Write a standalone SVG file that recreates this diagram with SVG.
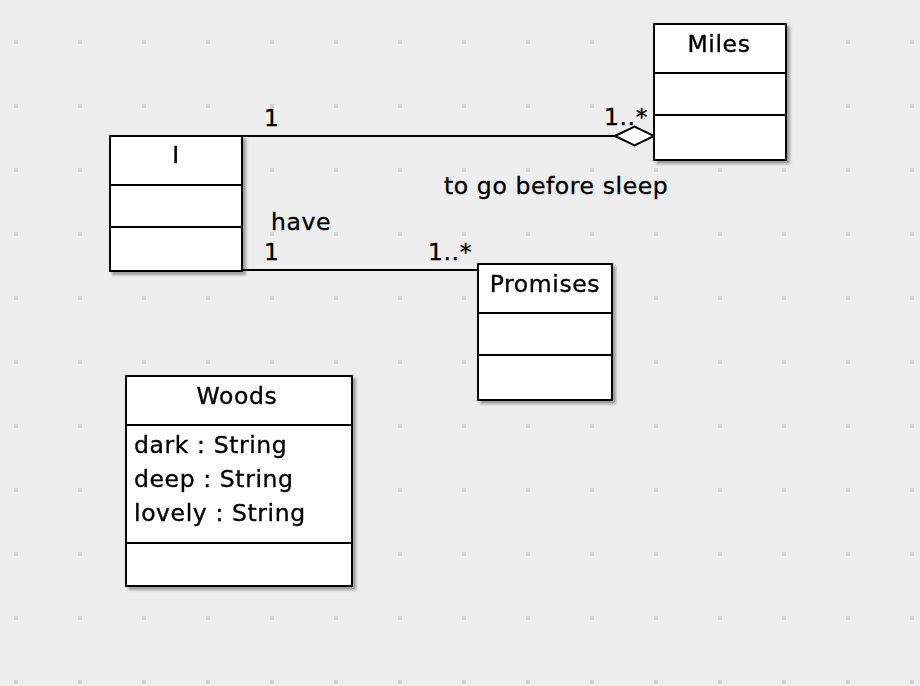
<svg xmlns="http://www.w3.org/2000/svg" width="920" height="686" viewBox="0 0 920 686">
<defs>
<pattern id="grid" x="14" y="40" width="64" height="64" patternUnits="userSpaceOnUse">
<rect x="0" y="0" width="4" height="4" fill="#d4d4d4"/>
</pattern>
<filter id="shadow" x="-10%" y="-10%" width="130%" height="130%">
<feGaussianBlur in="SourceAlpha" stdDeviation="1.5"/>
<feOffset dx="3" dy="3" result="b"/>
<feComponentTransfer><feFuncA type="linear" slope="0.35"/></feComponentTransfer>
<feMerge><feMergeNode/><feMergeNode in="SourceGraphic"/></feMerge>
</filter>
</defs>
<style>
.box{fill:#ffffff;stroke:#000000;stroke-width:2}
.div{stroke:#000000;stroke-width:2}
.edge{stroke:#000000;stroke-width:2;fill:none}
text{font-family:"DejaVu Sans",Verdana,sans-serif;font-size:23.5px;letter-spacing:0.6px;fill:#000000;stroke:#000000;stroke-width:0.35px}
.c{text-anchor:middle}
</style>
<rect x="0" y="0" width="920" height="686" fill="#eeeeee"/>
<rect x="0" y="0" width="920" height="686" fill="url(#grid)"/>

<g id="connectors">
<line class="edge" x1="242" y1="136" x2="615" y2="136"/>
<polygon class="edge" points="615,136 634.5,126.5 654,136 634.5,145.5" style="fill:#ffffff"/>
<line class="edge" x1="242" y1="270" x2="478" y2="270"/>
<text x="264" y="126">1</text>
<text x="604" y="125">1..*</text>
<text x="444" y="194">to go before sleep</text>
<text x="271" y="230">have</text>
<text x="264" y="260">1</text>
<text x="428" y="260">1..*</text>
</g>

<g id="node-I" filter="url(#shadow)">
<rect class="box" x="110" y="136" width="132" height="135"/>
<line class="div" x1="110" y1="185" x2="242" y2="185"/>
<line class="div" x1="110" y1="227" x2="242" y2="227"/>
<text class="c" x="176" y="163">I</text>
</g>

<g id="node-Miles" filter="url(#shadow)">
<rect class="box" x="654" y="24" width="132" height="136"/>
<line class="div" x1="654" y1="73" x2="786" y2="73"/>
<line class="div" x1="654" y1="115" x2="786" y2="115"/>
<text class="c" x="719" y="52">Miles</text>
</g>

<g id="node-Promises" filter="url(#shadow)">
<rect class="box" x="478" y="264" width="134" height="136"/>
<line class="div" x1="478" y1="313" x2="612" y2="313"/>
<line class="div" x1="478" y1="355" x2="612" y2="355"/>
<text class="c" x="545" y="292">Promises</text>
</g>

<g id="node-Woods" filter="url(#shadow)">
<rect class="box" x="126" y="376" width="226" height="210"/>
<line class="div" x1="126" y1="425" x2="352" y2="425"/>
<line class="div" x1="126" y1="543" x2="352" y2="543"/>
<text class="c" x="237" y="404">Woods</text>
<text x="134" y="453">dark : String</text>
<text x="134" y="487">deep : String</text>
<text x="134" y="521">lovely : String</text>
</g>
</svg>
